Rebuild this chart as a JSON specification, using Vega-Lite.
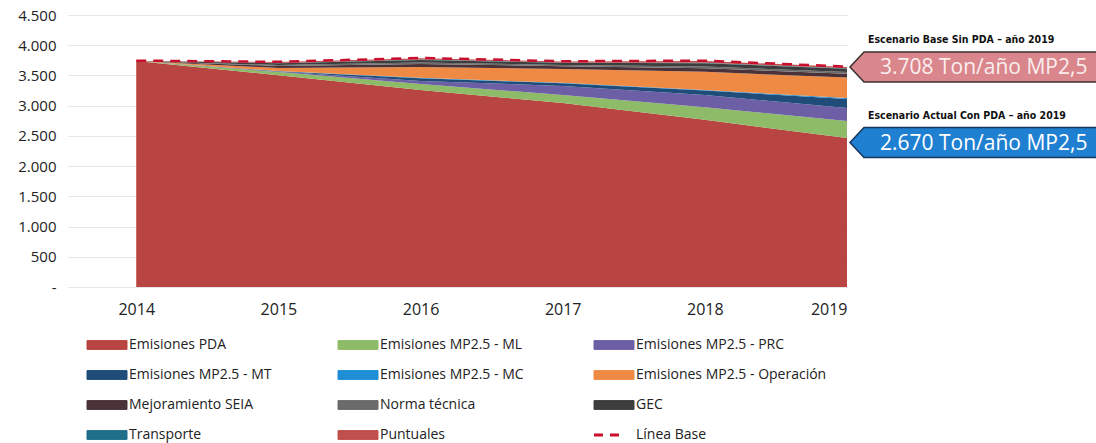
{
  "$schema": "https://vega.github.io/schema/vega-lite/v6.json",
  "width": 779,
  "height": 272,
  "autosize": {"type": "none"},
  "padding": {"left": 68, "top": 15, "right": 249, "bottom": 156},
  "background": "white",
  "config": {"view": {"stroke": null}, "font": "Open Sans"},
  "datasets": {
    "series": [
      {"year": 2014, "serie": "Emisiones PDA", "k": 1, "value": 3740},
      {"year": 2015, "serie": "Emisiones PDA", "k": 1, "value": 3505},
      {"year": 2016, "serie": "Emisiones PDA", "k": 1, "value": 3260},
      {"year": 2017, "serie": "Emisiones PDA", "k": 1, "value": 3045},
      {"year": 2018, "serie": "Emisiones PDA", "k": 1, "value": 2765},
      {"year": 2019, "serie": "Emisiones PDA", "k": 1, "value": 2465},
      {"year": 2014, "serie": "Emisiones MP2.5 - ML", "k": 2, "value": 0},
      {"year": 2015, "serie": "Emisiones MP2.5 - ML", "k": 2, "value": 50},
      {"year": 2016, "serie": "Emisiones MP2.5 - ML", "k": 2, "value": 100},
      {"year": 2017, "serie": "Emisiones MP2.5 - ML", "k": 2, "value": 130},
      {"year": 2018, "serie": "Emisiones MP2.5 - ML", "k": 2, "value": 210},
      {"year": 2019, "serie": "Emisiones MP2.5 - ML", "k": 2, "value": 280},
      {"year": 2014, "serie": "Emisiones MP2.5 - PRC", "k": 3, "value": 0},
      {"year": 2015, "serie": "Emisiones MP2.5 - PRC", "k": 3, "value": 10},
      {"year": 2016, "serie": "Emisiones MP2.5 - PRC", "k": 3, "value": 50},
      {"year": 2017, "serie": "Emisiones MP2.5 - PRC", "k": 3, "value": 150},
      {"year": 2018, "serie": "Emisiones MP2.5 - PRC", "k": 3, "value": 200},
      {"year": 2019, "serie": "Emisiones MP2.5 - PRC", "k": 3, "value": 215},
      {"year": 2014, "serie": "Emisiones MP2.5 - MT", "k": 4, "value": 0},
      {"year": 2015, "serie": "Emisiones MP2.5 - MT", "k": 4, "value": 5},
      {"year": 2016, "serie": "Emisiones MP2.5 - MT", "k": 4, "value": 45},
      {"year": 2017, "serie": "Emisiones MP2.5 - MT", "k": 4, "value": 45},
      {"year": 2018, "serie": "Emisiones MP2.5 - MT", "k": 4, "value": 75},
      {"year": 2019, "serie": "Emisiones MP2.5 - MT", "k": 4, "value": 150},
      {"year": 2014, "serie": "Emisiones MP2.5 - MC", "k": 5, "value": 0},
      {"year": 2015, "serie": "Emisiones MP2.5 - MC", "k": 5, "value": 2},
      {"year": 2016, "serie": "Emisiones MP2.5 - MC", "k": 5, "value": 5},
      {"year": 2017, "serie": "Emisiones MP2.5 - MC", "k": 5, "value": 8},
      {"year": 2018, "serie": "Emisiones MP2.5 - MC", "k": 5, "value": 10},
      {"year": 2019, "serie": "Emisiones MP2.5 - MC", "k": 5, "value": 15},
      {"year": 2014, "serie": "Emisiones MP2.5 - Operación", "k": 6, "value": 0},
      {"year": 2015, "serie": "Emisiones MP2.5 - Operación", "k": 6, "value": 50},
      {"year": 2016, "serie": "Emisiones MP2.5 - Operación", "k": 6, "value": 180},
      {"year": 2017, "serie": "Emisiones MP2.5 - Operación", "k": 6, "value": 230},
      {"year": 2018, "serie": "Emisiones MP2.5 - Operación", "k": 6, "value": 300},
      {"year": 2019, "serie": "Emisiones MP2.5 - Operación", "k": 6, "value": 340},
      {"year": 2014, "serie": "Mejoramiento SEIA", "k": 7, "value": 0},
      {"year": 2015, "serie": "Mejoramiento SEIA", "k": 7, "value": 35},
      {"year": 2016, "serie": "Mejoramiento SEIA", "k": 7, "value": 50},
      {"year": 2017, "serie": "Mejoramiento SEIA", "k": 7, "value": 45},
      {"year": 2018, "serie": "Mejoramiento SEIA", "k": 7, "value": 60},
      {"year": 2019, "serie": "Mejoramiento SEIA", "k": 7, "value": 65},
      {"year": 2014, "serie": "Norma técnica", "k": 8, "value": 0},
      {"year": 2015, "serie": "Norma técnica", "k": 8, "value": 15},
      {"year": 2016, "serie": "Norma técnica", "k": 8, "value": 25},
      {"year": 2017, "serie": "Norma técnica", "k": 8, "value": 20},
      {"year": 2018, "serie": "Norma técnica", "k": 8, "value": 30},
      {"year": 2019, "serie": "Norma técnica", "k": 8, "value": 25},
      {"year": 2014, "serie": "GEC", "k": 9, "value": 0},
      {"year": 2015, "serie": "GEC", "k": 9, "value": 30},
      {"year": 2016, "serie": "GEC", "k": 9, "value": 40},
      {"year": 2017, "serie": "GEC", "k": 9, "value": 35},
      {"year": 2018, "serie": "GEC", "k": 9, "value": 50},
      {"year": 2019, "serie": "GEC", "k": 9, "value": 55},
      {"year": 2014, "serie": "Transporte", "k": 10, "value": 0},
      {"year": 2015, "serie": "Transporte", "k": 10, "value": 5},
      {"year": 2016, "serie": "Transporte", "k": 10, "value": 8},
      {"year": 2017, "serie": "Transporte", "k": 10, "value": 8},
      {"year": 2018, "serie": "Transporte", "k": 10, "value": 10},
      {"year": 2019, "serie": "Transporte", "k": 10, "value": 10},
      {"year": 2014, "serie": "Puntuales", "k": 11, "value": 0},
      {"year": 2015, "serie": "Puntuales", "k": 11, "value": 15},
      {"year": 2016, "serie": "Puntuales", "k": 11, "value": 20},
      {"year": 2017, "serie": "Puntuales", "k": 11, "value": 15},
      {"year": 2018, "serie": "Puntuales", "k": 11, "value": 30},
      {"year": 2019, "serie": "Puntuales", "k": 11, "value": 20}
    ],
    "linea": [
      {"year": 2014, "serie": "Línea Base", "value": 3745},
      {"year": 2015, "serie": "Línea Base", "value": 3725},
      {"year": 2016, "serie": "Línea Base", "value": 3790},
      {"year": 2017, "serie": "Línea Base", "value": 3735},
      {"year": 2018, "serie": "Línea Base", "value": 3745},
      {"year": 2019, "serie": "Línea Base", "value": 3645}
    ],
    "notas": [
      {"year": 2019, "value": 3640, "kind": "base", "titulo": "Escenario Base Sin PDA – año 2019", "etiqueta": "3.708 Ton/año MP2,5"},
      {"year": 2019, "value": 2390, "kind": "actual", "titulo": "Escenario Actual Con PDA – año 2019", "etiqueta": "2.670 Ton/año MP2,5"}
    ]
  },
  "encoding": {
    "x": {
      "field": "year", "type": "quantitative",
      "scale": {"domain": [2013.52, 2019], "nice": false, "zero": false},
      "axis": {"title": null, "values": [2014, 2015, 2016, 2017, 2018, 2019], "format": "d", "grid": false, "domain": false, "ticks": false, "labelFontSize": 16, "labelColor": "#222", "labelPadding": 14}
    },
    "y": {
      "field": "value", "type": "quantitative",
      "scale": {"domain": [0, 4500], "nice": false},
      "axis": {"title": null, "values": [0, 500, 1000, 1500, 2000, 2500, 3000, 3500, 4000, 4500], "labelOverlap": false, "labelExpr": "datum.value === 0 ? '-' : replace(format(datum.value, ','), ',', '.')", "grid": true, "gridColor": "#e6e6e6", "domain": false, "ticks": false, "labelFontSize": 15, "labelColor": "#222", "labelPadding": 12}
    }
  },
  "layer": [
    {
      "data": {"name": "series"},
      "mark": {"type": "area", "opacity": 1},
      "encoding": {
        "y": {
          "field": "value", "type": "quantitative", "stack": "zero",
          "scale": {"domain": [0, 4500], "nice": false},
          "axis": {"title": null, "values": [0, 500, 1000, 1500, 2000, 2500, 3000, 3500, 4000, 4500], "labelOverlap": false, "labelExpr": "datum.value === 0 ? '-' : replace(format(datum.value, ','), ',', '.')", "grid": true, "gridColor": "#e6e6e6", "domain": false, "ticks": false, "labelFontSize": 15, "labelColor": "#222", "labelPadding": 12}
        },
        "color": {
          "field": "serie", "type": "nominal",
          "scale": {
            "domain": ["Emisiones PDA", "Emisiones MP2.5 - ML", "Emisiones MP2.5 - PRC", "Emisiones MP2.5 - MT", "Emisiones MP2.5 - MC", "Emisiones MP2.5 - Operación", "Mejoramiento SEIA", "Norma técnica", "GEC", "Transporte", "Puntuales", "Línea Base"],
            "range": ["#b84541", "#8dbb68", "#6d5fa6", "#1f4c79", "#1e8fd6", "#ee8a44", "#4a3238", "#6b6b6b", "#3d3d3d", "#1f6f8b", "#c0504d", "#c8102e"]
          },
          "legend": {
            "orient": "none", "legendX": 20, "legendY": 323, "columns": 3, "direction": "horizontal", "title": null, "padding": 0,
            "symbolType": "M-1,-0.55H4V0.55H-1Z", "symbolSize": 256, "symbolStrokeWidth": 1,
            "labelOffset": 27, "labelFontSize": 14, "labelColor": "#222", "labelLimit": 300,
            "columnPadding": 64, "rowPadding": 16,
            "encode": {
              "symbols": {
                "update": {
                  "shape": {"signal": "datum.value === 'Línea Base' ? 'M-1,0H0.125M1,0H2.125' : 'M-1,-0.55H4V0.55H-1Z'"},
                  "fill": {"signal": "datum.value === 'Línea Base' ? 'transparent' : scale('color', datum.value)"},
                  "stroke": {"signal": "datum.value === 'Línea Base' ? '#b0102a' : '#555'"},
                  "strokeWidth": {"signal": "datum.value === 'Línea Base' ? 3 : 1"},
                  "opacity": {"value": 1}
                }
              }
            }
          }
        },
        "order": {"field": "k", "type": "quantitative"}
      }
    },
    {
      "data": {"name": "linea"},
      "mark": {"type": "line", "strokeDash": [10, 7], "strokeWidth": 2.5},
      "encoding": {
        "color": {
          "field": "serie", "type": "nominal",
          "legend": {
            "orient": "none", "legendX": 20, "legendY": 323, "columns": 3, "direction": "horizontal", "title": null, "padding": 0,
            "symbolType": "M-1,-0.55H4V0.55H-1Z", "symbolSize": 256, "symbolStrokeWidth": 1,
            "labelOffset": 27, "labelFontSize": 14, "labelColor": "#222", "labelLimit": 300,
            "columnPadding": 64, "rowPadding": 16,
            "encode": {
              "symbols": {
                "update": {
                  "shape": {"signal": "datum.value === 'Línea Base' ? 'M-1,0H0.125M1,0H2.125' : 'M-1,-0.55H4V0.55H-1Z'"},
                  "fill": {"signal": "datum.value === 'Línea Base' ? 'transparent' : scale('color', datum.value)"},
                  "stroke": {"signal": "datum.value === 'Línea Base' ? '#b0102a' : '#555'"},
                  "strokeWidth": {"signal": "datum.value === 'Línea Base' ? 3 : 1"},
                  "opacity": {"value": 1}
                }
              }
            }
          }
        }
      }
    },
    {
      "data": {"name": "notas"},
      "mark": {"type": "point", "filled": true, "shape": "M0.06,0L0.34,-0.3H5.2V0.3H0.34Z", "size": 10000, "strokeWidth": 1.5, "opacity": 1},
      "encoding": {
        "fill": {"condition": {"test": "datum.kind === 'base'", "value": "#d9878d"}, "value": "#1f80d2"},
        "stroke": {"condition": {"test": "datum.kind === 'base'", "value": "#3b3030"}, "value": "#16365c"}
      }
    },
    {
      "data": {"name": "notas"},
      "mark": {"type": "text", "align": "left", "baseline": "middle", "dx": 33, "dy": 1, "fontSize": 21, "font": "Open Sans"},
      "encoding": {
        "text": {"field": "etiqueta"},
        "color": {"condition": {"test": "datum.kind === 'base'", "value": "#fbeeee"}, "value": "#ffffff"}
      }
    },
    {
      "data": {"name": "notas"},
      "mark": {"type": "text", "align": "left", "baseline": "middle", "dx": 21, "dy": -27, "fontSize": 10.5, "fontWeight": "bold", "font": "DejaVu Sans Condensed", "color": "#111"},
      "encoding": {
        "text": {"field": "titulo"}
      }
    }
  ]
}
